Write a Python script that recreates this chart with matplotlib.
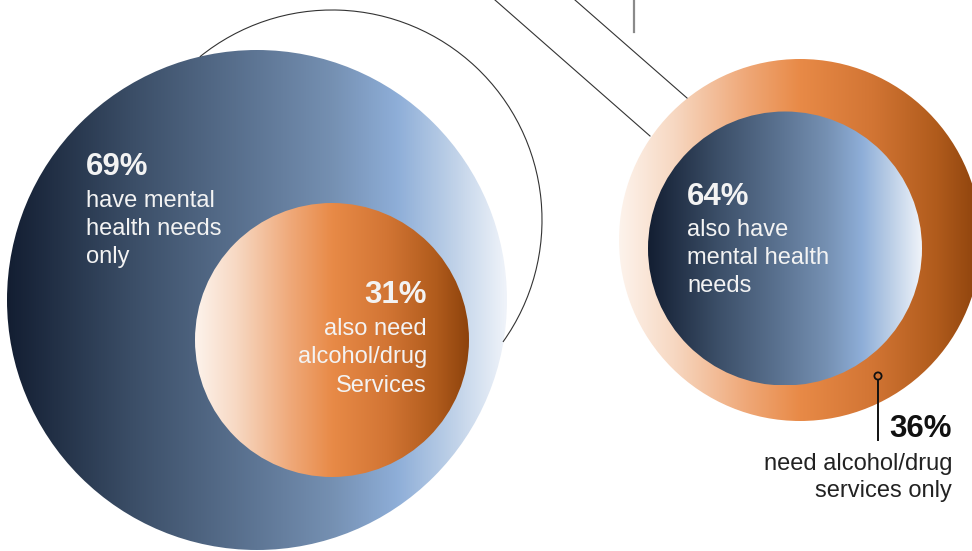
import matplotlib
matplotlib.use("Agg")
import matplotlib.pyplot as plt
import numpy as np
from matplotlib.colors import LinearSegmentedColormap
from matplotlib.patches import Circle, Arc

plt.rcParams['font.family'] = ['Liberation Sans', 'DejaVu Sans']

# Shares shown in the two diagrams
mh_only_pct = 69          # mental health needs only
mh_also_aod_pct = 31      # also need alcohol/drug services
aod_also_mh_pct = 64      # also have mental health needs
aod_only_pct = 36         # alcohol/drug services only

mh_only_lines = ["have mental", "health needs", "only"]
mh_also_lines = ["also need", "alcohol/drug", "Services"]
aod_also_lines = ["also have", "mental health", "needs"]
aod_only_lines = ["need alcohol/drug", "services only"]

# Gradient palettes
blue_stops = [(0.0, "#131e32"), (0.25, "#3b4e67"), (0.5, "#5e7695"),
              (0.65, "#7590b2"), (0.78, "#8eaed8"), (0.88, "#b9cde6"),
              (1.0, "#f0f4fa")]
orange_stops = [(0.0, "#fdf3ec"), (0.15, "#f7d8c2"), (0.35, "#efa878"),
                (0.5, "#e88a47"), (0.7, "#d27534"), (0.88, "#b05b1c"),
                (1.0, "#8c420c")]
blue_cmap = LinearSegmentedColormap.from_list("blue_grad", blue_stops)
orange_cmap = LinearSegmentedColormap.from_list("orange_grad", orange_stops)

W, H = 972, 551
fig = plt.figure(figsize=(W / 100, H / 100), dpi=100)
ax = fig.add_axes([0, 0, 1, 1])
ax.axis("off")


def gradient_disc(cx, cy, r, cmap, z):
    grad = np.linspace(0, 1, 512)[None, :]
    im = ax.imshow(grad, cmap=cmap, extent=[cx - r, cx + r, cy + r, cy - r],
                   aspect="auto", interpolation="bilinear", zorder=z)
    clip = Circle((cx, cy), r, transform=ax.transData)
    im.set_clip_path(clip)
    return im


# Left diagram: mental health clients
gradient_disc(257, 300, 250, blue_cmap, 1)
gradient_disc(332, 340, 137, orange_cmap, 2)

# Right diagram: alcohol/drug clients
gradient_disc(800, 240, 181, orange_cmap, 1)
gradient_disc(785, 248.5, 137, blue_cmap, 2)

# Connector lines
line_kw = dict(color="#333333", lw=0.8, zorder=3)
ax.add_patch(Arc((332, 220), 420, 420, theta1=-129, theta2=35.5,
                 color="#333333", lw=0.8, zorder=3))
ax.plot([495, 650], [0, 136], **line_kw)
ax.plot([575, 687], [0, 98], **line_kw)
ax.plot([634, 634], [0, 32], color="#8a8a8a", lw=1.6, zorder=3)

# Pointer for the alcohol/drug-only share
ax.plot([878, 878], [380, 440], color="#111111", lw=1.4, zorder=4)
ax.add_patch(Circle((878, 376), 3.6, facecolor="none", edgecolor="#111111",
                    lw=1.3, zorder=5))

white = "#f3f3f3"
big = 22.5
small = 17
step = 28

ax.text(86, 175, f"{mh_only_pct}%", color=white, fontsize=big,
        fontweight="bold", ha="left", va="baseline", zorder=6)
for i, s in enumerate(mh_only_lines):
    ax.text(86, 207 + i * step, s, color=white, fontsize=small,
            ha="left", va="baseline", zorder=6)

ax.text(427, 303, f"{mh_also_aod_pct}%", color=white, fontsize=big,
        fontweight="bold", ha="right", va="baseline", zorder=6)
for i, s in enumerate(mh_also_lines):
    ax.text(427, 335 + i * 28.5, s, color=white, fontsize=small,
            ha="right", va="baseline", zorder=6)

ax.text(687, 205, f"{aod_also_mh_pct}%", color=white, fontsize=big,
        fontweight="bold", ha="left", va="baseline", zorder=6)
for i, s in enumerate(aod_also_lines):
    ax.text(687, 236 + i * step, s, color=white, fontsize=small,
            ha="left", va="baseline", zorder=6)

ax.text(952, 437, f"{aod_only_pct}%", color="#111111", fontsize=big,
        fontweight="bold", ha="right", va="baseline", zorder=6)
for i, s in enumerate(aod_only_lines):
    ax.text(952, 470 + i * 27, s, color="#222222", fontsize=small,
            ha="right", va="baseline", zorder=6)

ax.set_xlim(0, W)
ax.set_ylim(H, 0)

fig.savefig("out.png", dpi=100, facecolor="white")
